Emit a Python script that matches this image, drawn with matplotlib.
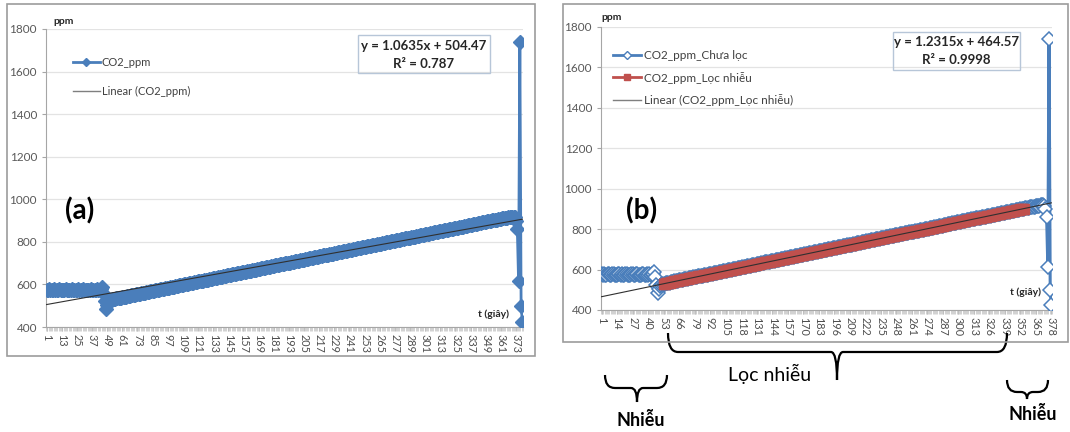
import numpy as np
import matplotlib.pyplot as plt
from matplotlib.lines import Line2D
from matplotlib.patches import Rectangle, PathPatch
from matplotlib.path import Path

plt.rcParams['font.family'] = ['Lato', 'Noto Sans', 'DejaVu Sans']

# CO2 readings (ppm), one per second, t = 1..378
co2_raw = [
    576, 574, 577, 575, 573, 576, 578, 575, 574, 576,
    577, 575, 573, 574, 576, 578, 575, 576, 574, 575,
    577, 576, 574, 573, 575, 577, 576, 574, 575, 578,
    576, 575, 573, 574, 576, 577, 575, 574, 576, 575,
    577, 574, 576, 580, 588, 562, 522, 483, 505, 518,
    523, 527, 530, 531, 532, 534, 535, 536, 537, 538,
    540, 541, 542, 543, 545, 546, 547, 548, 550, 551,
    552, 553, 554, 556, 557, 558, 559, 561, 562, 563,
    564, 566, 567, 568, 569, 570, 572, 573, 574, 575,
    577, 578, 579, 580, 582, 583, 584, 585, 587, 588,
    589, 590, 591, 593, 594, 595, 596, 598, 599, 600,
    601, 602, 604, 605, 606, 607, 609, 610, 611, 612,
    614, 615, 616, 617, 618, 620, 621, 622, 623, 625,
    626, 627, 628, 630, 631, 632, 633, 635, 636, 637,
    638, 639, 641, 642, 643, 644, 646, 647, 648, 649,
    651, 652, 653, 654, 655, 657, 658, 659, 660, 662,
    663, 664, 665, 667, 668, 669, 670, 671, 673, 674,
    675, 676, 678, 679, 680, 681, 683, 684, 685, 686,
    687, 689, 690, 691, 692, 694, 695, 696, 697, 699,
    700, 701, 702, 703, 705, 706, 707, 708, 710, 711,
    712, 713, 715, 716, 717, 718, 720, 721, 722, 723,
    724, 726, 727, 728, 729, 731, 732, 733, 734, 736,
    737, 738, 739, 740, 742, 743, 744, 745, 747, 748,
    749, 750, 752, 753, 754, 755, 756, 758, 759, 760,
    761, 763, 764, 765, 766, 768, 769, 770, 771, 772,
    774, 775, 776, 777, 779, 780, 781, 782, 784, 785,
    786, 787, 788, 790, 791, 792, 793, 795, 796, 797,
    798, 800, 801, 802, 803, 804, 806, 807, 808, 809,
    811, 812, 813, 814, 816, 817, 818, 819, 820, 822,
    823, 824, 825, 827, 828, 829, 830, 832, 833, 834,
    835, 837, 838, 839, 840, 841, 843, 844, 845, 846,
    848, 849, 850, 851, 853, 854, 855, 856, 857, 859,
    860, 861, 862, 864, 865, 866, 867, 869, 870, 871,
    872, 873, 875, 876, 877, 878, 880, 881, 882, 883,
    885, 886, 887, 888, 889, 891, 892, 893, 894, 896,
    897, 898, 899, 901, 902, 903, 904, 905, 907, 908,
    909, 910, 911, 912, 913, 914, 915, 916, 917, 918,
    919, 915, 900, 860, 614, 1740, 499, 425,
]
filt_start, filt_end = 53, 355   # range kept after noise filtering

fit_a = (1.0635, 504.47)
fit_b = (1.2315, 464.57)
eq_a = ["y = 1.0635x + 504.47", "R² = 0.787"]
eq_b = ["y = 1.2315x + 464.57", "R² = 0.9998"]
ticks_a = list(range(1, 374, 12))
ticks_b = list(range(1, 379, 13))
y_ticks = list(range(400, 1801, 200))

BLUE = '#4A7EBB'
RED = '#C0504D'
GREY = '#595959'

W, H = 1070, 432
fig = plt.figure(figsize=(W / 100, H / 100), dpi=100)


def fx(x):
    return x / W


def fy(y):
    return 1 - y / H


def px_axes(left, top, right, bottom):
    return fig.add_axes([fx(left), fy(bottom), (right - left) / W, (bottom - top) / H])


def setup(ax, ticks, n):
    ax.set_xlim(0.5, n + 0.5)
    ax.set_ylim(400, 1800)
    ax.set_yticks(y_ticks)
    ax.set_xticks(ticks)
    ax.set_xticklabels([str(v) for v in ticks], rotation=270, fontsize=7.8, color='#4D4D4D')
    ax.set_xticks(np.arange(0.5, n + 1, 1), minor=True)
    ax.tick_params(axis='x', which='major', length=3, color='#BFBFBF', pad=2)
    ax.tick_params(axis='x', which='minor', length=3, color='#BFBFBF', width=0.5)
    ax.tick_params(axis='y', length=3, color='#A6A6A6', labelsize=8.5, labelcolor=GREY)
    ax.grid(axis='y', color='#E3E3E3', lw=0.9)
    ax.set_axisbelow(True)
    for s in ['top', 'right']:
        ax.spines[s].set_visible(False)
    for s in ['left', 'bottom']:
        ax.spines[s].set_color('#A6A6A6')


def ftext(x, y, s, **kw):
    fig.text(fx(x), fy(y), s, ha='center', va='center', **kw)


def eq_box(x0, y0, x1, y1, lines):
    fig.patches.append(Rectangle((fx(x0), fy(y1)), (x1 - x0) / W, (y1 - y0) / H,
                                 transform=fig.transFigure, fill=False,
                                 ec='#B7C6D8', lw=1.0))
    cx = (x0 + x1) / 2
    dy = (y1 - y0) / 4
    ftext(cx, y0 + dy + 1, lines[0], fontsize=9.5, fontweight='bold', color='#262626')
    ftext(cx, y1 - dy, lines[1], fontsize=9.5, fontweight='bold', color='#262626')


t = np.arange(1, len(co2_raw) + 1)
co2 = np.array(co2_raw)
n = len(co2_raw)

# chart frames
for (x0, y0, x1, y1) in [(7, 4, 535, 356), (563, 4, 1068, 342)]:
    fig.patches.append(Rectangle((fx(x0), fy(y1)), (x1 - x0) / W, (y1 - y0) / H,
                                 transform=fig.transFigure, fill=False,
                                 ec='#9C9C9C', lw=1.2))

# ---- panel (a)
ax1 = px_axes(46, 29, 523, 327)
setup(ax1, ticks_a, n)
ax1.plot(t, co2, color=BLUE, lw=2, marker='D', ms=7.5, mfc=BLUE, mec=BLUE, zorder=3)
ax1.plot(t, fit_a[0] * t + fit_a[1], color='#303030', lw=0.8, zorder=4)
h1 = [Line2D([], [], color=BLUE, lw=2, marker='D', ms=4),
      Line2D([], [], color='#7F7F7F', lw=1)]
fig.legend(h1, ['CO2_ppm', 'Linear (CO2_ppm)'], loc='center left',
           bbox_to_anchor=(fx(73), fy(77)), frameon=False, fontsize=8,
           labelcolor='#404040', handlelength=2.4, labelspacing=1.6,
           borderpad=0, borderaxespad=0, handletextpad=0.2)
eq_box(358, 35, 490, 73, eq_a)
ftext(64, 22, 'ppm', fontsize=7.5, fontweight='bold', color='#262626')
ftext(493, 314, 't (giây)', fontsize=7.5, fontweight='bold', color='#262626')
ftext(80, 211, '(a)', fontsize=20, fontweight='bold', color='black')

# ---- panel (b)
ax2 = px_axes(601, 27, 1052, 310)
setup(ax2, ticks_b, n)
ax2.plot(t, co2, color=BLUE, lw=2.2, marker='D', ms=7, mfc='white', mec=BLUE,
         mew=1.1, zorder=3)
sel = (t >= filt_start) & (t <= filt_end)
ax2.plot(t[sel], co2[sel], color=RED, lw=2, marker='s', ms=6.5, mfc=RED, mec=RED,
         zorder=4)
ax2.plot(t, fit_b[0] * t + fit_b[1], color='#303030', lw=0.8, zorder=5)
h2 = [Line2D([], [], color=BLUE, lw=2, marker='D', ms=4, mfc='white', mec=BLUE),
      Line2D([], [], color=RED, lw=2, marker='s', ms=4),
      Line2D([], [], color='#7F7F7F', lw=1)]
fig.legend(h2, ['CO2_ppm_Chưa lọc', 'CO2_ppm_Lọc nhiễu', 'Linear (CO2_ppm_Lọc nhiễu)'],
           loc='center left', bbox_to_anchor=(fx(613), fy(78)), frameon=False,
           fontsize=8.5, labelcolor='#404040', handlelength=2.4, labelspacing=0.9,
           borderpad=0, borderaxespad=0, handletextpad=0.2)
eq_box(893, 32, 1020, 70, eq_b)
ftext(612, 18, 'ppm', fontsize=7.5, fontweight='bold', color='#262626')
ftext(1025, 292, 't (giây)', fontsize=7.5, fontweight='bold', color='#262626')
ftext(642, 211, '(b)', fontsize=20, fontweight='bold', color='black')

# ---- braces below panel (b)
ov = fig.add_axes([0, 0, 1, 1])
ov.set_xlim(0, W)
ov.set_ylim(H, 0)
ov.axis('off')


def brace(x0, x1, ytop, ymid, tx, ty):
    r = min(10, (ymid - ytop))
    verts = [(x0, ytop), (x0, ymid), (x0 + r, ymid),
             (tx - 6, ymid), (tx, ymid), (tx, ty),
             (tx, ymid), (tx + 6, ymid),
             (x1 - r, ymid), (x1, ymid), (x1, ytop)]
    codes = [Path.MOVETO, Path.CURVE3, Path.CURVE3,
             Path.LINETO, Path.CURVE3, Path.CURVE3,
             Path.CURVE3, Path.CURVE3,
             Path.LINETO, Path.CURVE3, Path.CURVE3]
    ov.add_patch(PathPatch(Path(verts, codes), fill=False, lw=1.6, ec='black'))


brace(668, 1007, 333, 352, 837, 380)
brace(605, 667, 375, 388, 637, 402)
brace(1007, 1048, 380, 392, 1027, 399)
ftext(770, 374, 'Lọc nhiễu', fontsize=14, color='black')
ftext(641, 421, 'Nhiễu', fontsize=13, fontweight='bold', color='black')
ftext(1033, 415, 'Nhiễu', fontsize=13, fontweight='bold', color='black')

fig.savefig('out.png', dpi=100)
